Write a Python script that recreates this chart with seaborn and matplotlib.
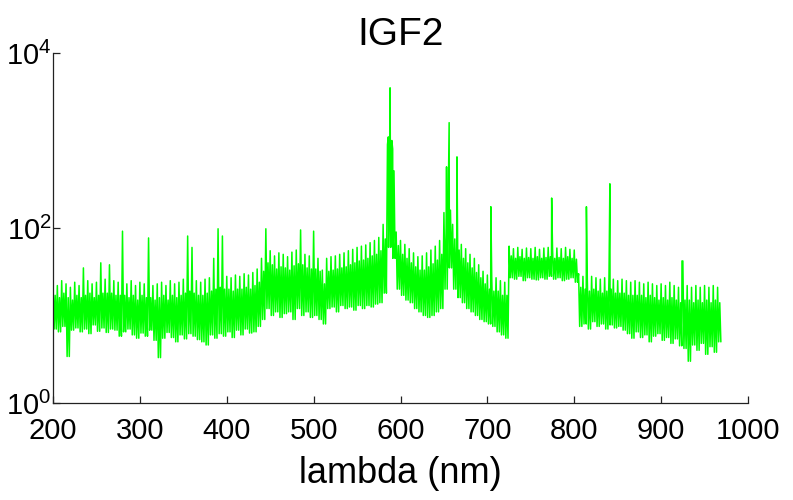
import numpy as np
import pandas as pd
import seaborn as sns
import matplotlib
matplotlib.use("Agg")
from matplotlib import pyplot as plt

# spectrum: every 5 nm the band top and band bottom
wl = list(range(200, 970, 5))
band_top = [24, 22, 25, 23, 21, 24, 22, 35, 25, 23, 24, 40,
            26, 38, 25, 24, 92, 23, 25, 22, 24, 23, 77, 22,
            23, 24, 22, 25, 23, 24, 26, 81, 60, 25, 24, 26,
            27, 45, 98, 81, 28, 27, 29, 28, 30, 29, 31, 34,
            45, 98, 55, 48, 52, 50, 47, 53, 56, 95, 50, 48,
            92, 45, 33, 45, 47, 48, 50, 52, 55, 57, 60, 62,
            64, 68, 72, 78, 110, 900, 1000, 90, 72, 65, 58, 52,
            47, 48, 52, 56, 62, 72, 150, 240, 110, 80, 65, 58,
            50, 45, 38, 32, 29, 28, 27, 25, 24, 62, 58, 60,
            57, 59, 58, 60, 57, 59, 60, 58, 59, 58, 60, 57,
            56, 30, 28, 27, 28, 27, 26, 27, 28, 26, 25, 26,
            25, 24, 25, 24, 23, 24, 23, 22, 23, 22, 24, 22,
            21, 42, 22, 21, 22, 21, 22, 21, 22, 21]
band_bottom = [7, 6.5, 7.5, 3.4, 6.8, 7.2, 6.5, 7, 6.2, 7.8, 6.6, 7.2,
               6.4, 7, 6.8, 5.8, 6.5, 7, 6, 5.5, 6.3, 5.8, 6.8, 5.2,
               3.3, 5.5, 6.4, 5.6, 5, 6, 5.4, 6.2, 5.8, 5.3, 5, 4.6,
               6, 5.5, 6.2, 5.8, 6.5, 5.6, 6.8, 6, 7, 6.3, 6.5, 7.5,
               9, 12, 10, 11, 9.5, 10.5, 11, 9, 12, 10, 11, 9.5,
               10, 9, 8, 12, 12.5, 11, 13, 12, 12.5, 11.5, 13, 12,
               13, 12.5, 13.5, 14, 18, 60, 45, 20, 17, 15, 14, 12,
               11, 10, 9.5, 10, 11, 12, 20, 35, 20, 16, 14, 12,
               11, 10, 9, 8.5, 8, 7.5, 6.5, 6, 5.5, 27, 26, 28,
               25, 27, 26, 25.5, 27, 26, 28, 26, 27, 25, 26, 27,
               24, 7.5, 8, 7, 8.5, 7.5, 8, 7, 7.8, 7.2, 7.5, 6.8,
               6.2, 5.5, 6.5, 5.6, 6, 5, 5.8, 6.2, 5.2, 5.6, 4.8, 5.4,
               4.5, 4.2, 3, 4.6, 4, 4.8, 3.6, 4.4, 3.8, 5]
# upper part of the dense core, same 5 nm grid
band_mid = [17, 16, 18, 16, 15, 17, 16, 17, 18, 16, 17, 18,
            18, 18, 17, 17, 17, 16, 17, 15, 17, 16, 16, 15,
            16, 17, 15, 17, 16, 17, 18, 19, 18, 17, 17, 18,
            19, 20, 21, 20, 20, 19, 20, 20, 21, 20, 22, 24,
            32, 40, 38, 34, 36, 35, 33, 37, 39, 38, 35, 34,
            34, 32, 23, 32, 33, 34, 35, 36, 38, 40, 42, 43,
            45, 48, 50, 55, 75, 400, 450, 63, 50, 45, 40, 36,
            33, 33, 36, 39, 43, 50, 100, 160, 75, 56, 45, 40,
            35, 31, 27, 23, 20, 19, 19, 17, 17, 48, 45, 47,
            45, 46, 45, 47, 45, 46, 47, 45, 46, 45, 47, 45,
            44, 21, 20, 19, 20, 19, 18, 19, 20, 18, 18, 18,
            17, 17, 17, 17, 16, 17, 16, 15, 16, 15, 16, 15,
            14, 15, 15, 14, 15, 14, 15, 14, 15, 14]

# narrow emission lines
spike_nm = [586, 588, 591, 653, 656, 665, 704, 774, 814, 841, 924]
spike_val = [1100, 4000, 800, 500, 1600, 650, 175, 220, 175, 320, 42]

lam = []
flux = []
for w, t, m, b in zip(wl, band_top, band_mid, band_bottom):
    lam += [w, w + 1.25, w + 2.5, w + 3.75]
    flux += [t, b, m, b]
lam += spike_nm
flux += spike_val
df = pd.DataFrame({"lam": lam, "flux": flux}).sort_values("lam", kind="stable")

sns.set_style("ticks")
plt.rcParams["font.family"] = ["Liberation Sans", "DejaVu Sans"]
plt.rcParams["mathtext.fontset"] = "custom"
plt.rcParams["mathtext.rm"] = "Liberation Sans"
plt.rcParams["mathtext.it"] = "Liberation Sans"
plt.rcParams["text.color"] = "black"
plt.rcParams["xtick.color"] = "black"
plt.rcParams["ytick.color"] = "black"

fig = plt.figure(figsize=(7.93, 5.0), dpi=100)
ax = fig.add_axes([53 / 793, 97 / 500, 695 / 793, 350 / 500])

sns.lineplot(data=df, x="lam", y="flux", sort=False, estimator=None,
             color=(0, 1, 0), linewidth=1.1, ax=ax)

ax.set_yscale("log")
ax.set_xlim(200, 1000)
ax.set_ylim(1, 1e4)
ax.set_xticks(range(200, 1001, 100))
ax.set_yticks([1, 100, 10000])
ax.yaxis.set_minor_locator(matplotlib.ticker.NullLocator())

sns.despine(ax=ax)
for s in ("left", "bottom"):
    ax.spines[s].set_color("#222222")
    ax.spines[s].set_linewidth(0.9)
ax.tick_params(direction="in", length=5, width=0.9, labelsize=21,
               color="#222222", labelcolor="black")
ax.tick_params(axis="x", pad=10)
ax.tick_params(axis="y", pad=1)

ax.set_xlabel("lambda (nm)", fontsize=26, labelpad=8, color="black")
ax.set_ylabel("")
ax.set_title("IGF2", fontsize=28, pad=6, color="black")

fig.savefig("out.png", dpi=100)
